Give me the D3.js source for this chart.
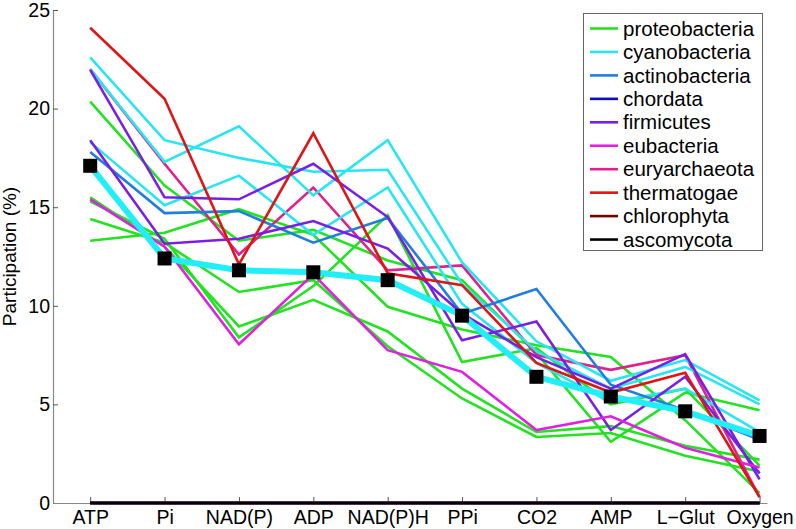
<!DOCTYPE html>
<html>
<head>
<meta charset="utf-8">
<script src="https://cdn.jsdelivr.net/npm/d3@7"></script>
<style>
  html, body { margin: 0; padding: 0; background: #fff; }
  svg { display: block; font-family: "Liberation Sans", Arial, Helvetica, sans-serif; }
</style>
</head>
<body>
<svg id="chart" width="796" height="529"></svg>
<script>
// ---- data ----
const categories = ["ATP", "Pi", "NAD(P)", "ADP", "NAD(P)H", "PPi", "CO2", "AMP", "L\u2212Glut", "Oxygen"];
const yTicks = [0, 5, 10, 15, 20, 25];

const phyla = ["proteobacteria", "cyanobacteria", "actinobacteria", "chordata", "firmicutes",
               "eubacteria", "euryarchaeota", "thermatogae", "chlorophyta", "ascomycota"];

const proteobacteria = [
  [20.35, 16.1, 13.3, 13.85, 12.3, 11.3, 7.6, 3.1, 5.6, 4.7],
  [13.3, 13.7, 14.9, 13.6, 9.95, 8.8, 8.0, 7.4, 4.2, 0.5],
  [15.5, 13.0, 8.95, 10.3, 8.7, 5.8, 3.6, 3.9, 2.9, 2.2],
  [15.3, 13.4, 8.4, 11.0, 14.6, 7.15, 7.85, 5.0, 5.8, 1.9],
  [14.4, 13.2, 10.7, 11.3, 7.95, 5.3, 3.35, 3.55, 2.4, 1.6]
];
const cyanobacteria = [
  [22.6, 18.4, 17.5, 16.8, 16.9, 11.1, 7.7, 5.8, 6.9, 5.0],
  [22.0, 17.3, 19.1, 15.6, 18.4, 12.2, 8.2, 6.2, 7.25, 5.2],
  [18.3, 15.1, 16.6, 13.6, 16.0, 10.1, 7.1, 5.1, 5.8, 3.6]
];
const actinobacteria = [
  [17.8, 14.7, 14.8, 13.2, 14.45, 9.6, 10.85, 6.0, 4.7, 3.2]
];
const chordata = [
  [0, 0, 0, 0, 0, 0, 0, 0, 0, 0]
];
const firmicutes = [
  [21.96, 15.5, 15.4, 17.2, 14.5, 8.25, 9.2, 3.7, 6.4, 1.5],
  [18.4, 13.15, 13.4, 14.3, 12.9, 9.6, 7.4, 5.8, 7.55, 1.2]
];
const eubacteria = [
  [15.4, 13.0, 8.05, 11.6, 7.75, 6.65, 3.7, 4.4, 2.8, 1.8]
];
const euryarchaeota = [
  [22.0, 17.2, 12.6, 16.0, 11.8, 12.05, 7.5, 6.75, 7.5, 0.3]
];
const thermatogae = [
  [24.1, 20.5, 12.1, 18.75, 11.65, 11.05, 7.1, 5.6, 6.6, 0.3]
];
const chlorophyta = [
  [0, 0, 0, 0, 0, 0, 0, 0, 0, 0]
];
const ascomycota = [
  [0, 0, 0, 0, 0, 0, 0, 0, 0, 0]
];
const meanValues = [17.1, 12.4, 11.8, 11.7, 11.3, 9.5, 6.4, 5.4, 4.65, 3.4];

// ---- styles ----
const colors = {
  proteobacteria: "#22e222",
  cyanobacteria: "#27e6f2",
  actinobacteria: "#1f7fe0",
  chordata: "#0a0ad0",
  firmicutes: "#7a1ee6",
  eubacteria: "#e020e0",
  euryarchaeota: "#e0208c",
  thermatogae: "#e01414",
  chlorophyta: "#7a0000",
  ascomycota: "#000000"
};
const seriesData = {
  proteobacteria, cyanobacteria, actinobacteria, chordata, firmicutes,
  eubacteria, euryarchaeota, thermatogae, chlorophyta, ascomycota
};
const drawOrder = ["proteobacteria", "euryarchaeota", "cyanobacteria", "actinobacteria", "chordata",
                   "firmicutes", "eubacteria", "thermatogae", "chlorophyta", "ascomycota"];

// ---- layout ----
const svg = d3.select("#chart");
const plotL = 53, plotR = 767, plotT = 10, plotB = 503;

const x = d3.scaleLinear().domain([0.5, 10.1]).range([plotL, plotR]);
const y = d3.scaleLinear().domain([0, 25]).range([plotB, plotT]);

const line = d3.line()
  .x((d, i) => x(i + 1))
  .y(d => y(d));

const gLines = svg.append("g");
drawOrder.forEach(name => {
  seriesData[name].forEach(vals => {
    gLines.append("path")
      .datum(vals)
      .attr("d", line)
      .attr("fill", "none")
      .attr("stroke", colors[name])
      .attr("stroke-width", 2.6)
      .attr("stroke-linejoin", "miter");
  });
});

// mean line
svg.append("path")
  .datum(meanValues)
  .attr("d", line)
  .attr("fill", "none")
  .attr("stroke", "#22eef8")
  .attr("stroke-width", 6);
svg.append("g").selectAll("rect")
  .data(meanValues)
  .join("rect")
  .attr("x", (d, i) => x(i + 1) - 7)
  .attr("y", d => y(d) - 7)
  .attr("width", 14)
  .attr("height", 14)
  .attr("fill", "#000");

// ---- axes ----
const axisColor = "#888";
const yAxis = svg.append("g")
  .attr("transform", `translate(${plotL},0)`)
  .call(d3.axisLeft(y).tickValues(yTicks).tickSizeInner(-5).tickSizeOuter(0).tickPadding(3));
const xAxis = svg.append("g")
  .attr("transform", `translate(0,${plotB})`)
  .call(d3.axisBottom(x).tickValues(d3.range(1, categories.length + 1))
        .tickFormat(i => categories[i - 1]).tickSizeInner(-6).tickSizeOuter(0).tickPadding(7));

[yAxis, xAxis].forEach(g => {
  g.select(".domain").attr("stroke", axisColor).attr("stroke-width", 1.2);
  g.selectAll(".tick line").attr("stroke", "#555").attr("stroke-width", 1);
  g.selectAll(".tick text").attr("fill", "#000").attr("font-size", 19.5)
    .attr("font-family", "Liberation Sans, Arial, sans-serif");
});
// redraw zero lines over the axis (they lie on y = 0)
["chordata", "chlorophyta", "ascomycota"].forEach(name => {
  seriesData[name].forEach(vals => {
    svg.append("path").datum(vals).attr("d", line)
      .attr("fill", "none").attr("stroke", colors[name]).attr("stroke-width", 2.6);
  });
});

// y label
svg.append("text")
  .attr("transform", `translate(16,${(plotT + plotB) / 2}) rotate(-90)`)
  .attr("text-anchor", "middle")
  .attr("font-size", 19)
  .attr("fill", "#000")
  .text("Participation (%)");

// ---- legend ----
const lg = svg.append("g");
lg.append("rect")
  .attr("x", 583.5).attr("y", 13.5).attr("width", 179).attr("height", 237)
  .attr("fill", "#fff").attr("stroke", "#666").attr("stroke-width", 1);
phyla.forEach((name, i) => {
  const cy = 28.5 + i * 23.45;
  lg.append("line")
    .attr("x1", 590).attr("x2", 618).attr("y1", cy).attr("y2", cy)
    .attr("stroke", colors[name]).attr("stroke-width", 2.6);
  lg.append("text")
    .attr("x", 623).attr("y", cy).attr("dy", "0.35em")
    .attr("font-size", 20.5).attr("fill", "#000")
    .text(name);
});
</script>
</body>
</html>
